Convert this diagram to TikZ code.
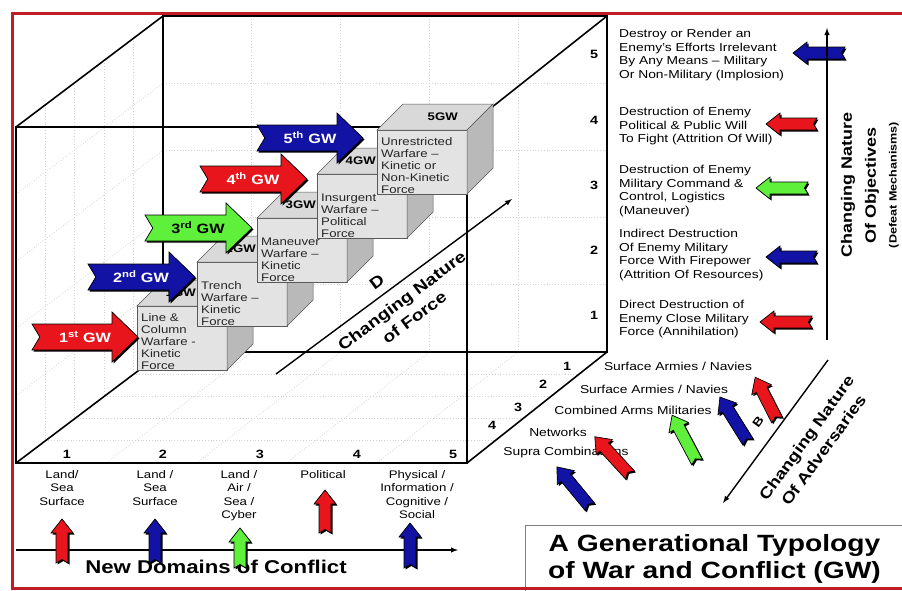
\documentclass[tikz,border=0pt]{standalone}
\usepackage{fontspec}
\setmainfont{Liberation Sans}[FakeStretch=1.2]

\definecolor{gwred}{RGB}{232,22,28}
\definecolor{gwblue}{RGB}{18,18,165}
\definecolor{gwgreen}{RGB}{95,240,60}
\definecolor{framered}{RGB}{192,28,40}

\tikzset{
  cubeline/.style={line width=1.6pt},
  gridline/.style={gray!35, dotted, line width=0.8pt},
  axisline/.style={line width=1.4pt, ->, >=latex},
  boxface/.style={draw=gray!70!black, fill=gray!22, line width=0.5pt, minimum width=90pt, minimum height=64pt, inner sep=0pt, outer sep=0pt, anchor=north west},
  boxtop/.style={draw=gray!70!black, fill=gray!30, line width=0.5pt},
  boxside/.style={draw=gray!70!black, fill=gray!55, line width=0.5pt},
  boxtext/.style={anchor=south west, align=left, inner sep=0pt, text=black!85, font=\fontsize{11}{12}\selectfont},
  boxlabel/.style={anchor=east, inner sep=0pt, font=\bfseries\fontsize{11}{12}\selectfont},
  gwtext/.style={text=white, font=\bfseries\fontsize{13.5}{16}\selectfont},
  num/.style={font=\bfseries\fontsize{12}{14}\selectfont},
  smalltext/.style={align=center, inner sep=0pt, font=\fontsize{11}{13.5}\selectfont},
  objtext/.style={anchor=north west, align=left, inner sep=0pt, font=\fontsize{11.5}{13.5}\selectfont},
  axislabel/.style={align=center, font=\bfseries\fontsize{16}{21}\selectfont},
}

% tail point, angle, length, body half width, head half width, head length, colour
\newcommand{\fatarrow}[7]{%
  \begin{scope}[shift={(#1)}]
    \begin{scope}[shift={(1.5,1.5)},rotate=#2]
      \fill[black] (0,-#4) -- (#3-#6,-#4) -- (#3-#6,-#5) -- (#3,0) -- (#3-#6,#5) -- (#3-#6,#4) -- (0,#4) -- (0.6*#4,0) -- cycle;
    \end{scope}
    \begin{scope}[rotate=#2]
      \filldraw[fill=#7, draw=black, line width=0.7pt] (0,-#4) -- (#3-#6,-#4) -- (#3-#6,-#5) -- (#3,0) -- (#3-#6,#5) -- (#3-#6,#4) -- (0,#4) -- (0.6*#4,0) -- cycle;
    \end{scope}
  \end{scope}}

\begin{document}
\begin{tikzpicture}[x=1pt,y=-1pt]
\useasboundingbox (0,0) rectangle (902,590);
\fill[white] (0,0) rectangle (902,590);

% dotted grid inside the cube
\foreach \k in {1,2,3,4} {
  \draw[gridline] ({163+88.8*\k},16) -- ({163+88.8*\k},352);
  \draw[gridline] (163,{16+67.2*\k}) -- (607,{16+67.2*\k});
  \draw[gridline] ({16+90.2*\k},463) -- ({163+88.8*\k},352);
  \draw[gridline] ({16+29.4*\k},{463-22.2*\k}) -- ({467+28*\k},{463-22.2*\k});
  \draw[gridline] ({16+29.4*\k},{127-22.2*\k}) -- ({16+29.4*\k},{463-22.2*\k});
  \draw[gridline] (16,{127+67.2*\k}) -- (163,{16+67.2*\k});
}

% cube
\draw[cubeline] (16,127) rectangle (467,463);
\draw[cubeline] (163,16) rectangle (607,352);
\draw[cubeline] (16,127) -- (163,16);
\draw[cubeline] (467,127) -- (607,16);
\draw[cubeline] (467,463) -- (607,352);
\draw[cubeline] (16,463) -- (163,352);

% scale numbers
\node[num] (dom1num) at (67,454) {1};
\node[num] (dom2num) at (163,454) {2};
\node[num] (dom3num) at (260,454) {3};
\node[num] (dom4num) at (357,454) {4};
\node[num] (dom5num) at (453,454) {5};

\node[num] (obj5num) at (594,54) {5};
\node[num] (obj4num) at (594,120) {4};
\node[num] (obj3num) at (594,185) {3};
\node[num] (obj2num) at (594,250) {2};
\node[num] (obj1num) at (594,315) {1};

\node[num] (adv1num) at (567,366) {1};
\node[num] (adv2num) at (543,384) {2};
\node[num] (adv3num) at (518,407) {3};
\node[num] (adv4num) at (492,425) {4};

% changing nature of force
\coordinate (forceS) at (276,374);
\coordinate (forceE) at (512,199);
\draw[axisline] (forceS) -- (forceE);
\node[axislabel, rotate=36.6] (forceD) at (377,282) {D};
\node[axislabel, rotate=36.6] (forcelab) at (408,309) {Changing Nature\\of Force};

% stair boxes
\node[boxface] (box1) at (137,306) {};
\filldraw[boxtop] (box1.north west) -- ++(26,-26) -- ++(90,0) -- (box1.north east) -- cycle;
\filldraw[boxside] (box1.north east) -- ++(26,-26) -- ++(0,64) -- (box1.south east) -- cycle;
\node[boxtext] (box1txt) at ([shift={(4,0)}]box1.south west) {Line \&\\Column\\Warfare -\\Kinetic\\Force};
\node[boxlabel] (box1lab) at ([shift={(59,-13)}]box1.north west) {1GW};

\node[boxface] (box2) at (197,262) {};
\filldraw[boxtop] (box2.north west) -- ++(26,-26) -- ++(90,0) -- (box2.north east) -- cycle;
\filldraw[boxside] (box2.north east) -- ++(26,-26) -- ++(0,64) -- (box2.south east) -- cycle;
\node[boxtext] (box2txt) at ([shift={(4,0)}]box2.south west) {Trench\\Warfare --\\Kinetic\\Force};
\node[boxlabel] (box2lab) at ([shift={(59,-13)}]box2.north west) {2GW};

\node[boxface] (box3) at (257,218) {};
\filldraw[boxtop] (box3.north west) -- ++(26,-26) -- ++(90,0) -- (box3.north east) -- cycle;
\filldraw[boxside] (box3.north east) -- ++(26,-26) -- ++(0,64) -- (box3.south east) -- cycle;
\node[boxtext] (box3txt) at ([shift={(4,0)}]box3.south west) {Maneuver\\Warfare --\\Kinetic\\Force};
\node[boxlabel] (box3lab) at ([shift={(59,-13)}]box3.north west) {3GW};

\node[boxface] (box4) at (317,174) {};
\filldraw[boxtop] (box4.north west) -- ++(26,-26) -- ++(90,0) -- (box4.north east) -- cycle;
\filldraw[boxside] (box4.north east) -- ++(26,-26) -- ++(0,64) -- (box4.south east) -- cycle;
\node[boxtext] (box4txt) at ([shift={(4,0)}]box4.south west) {Insurgent\\Warfare --\\Political\\Force};
\node[boxlabel] (box4lab) at ([shift={(59,-13)}]box4.north west) {4GW};

\node[boxface] (box5) at (377,130) {};
\filldraw[boxtop] (box5.north west) -- ++(26,-26) -- ++(90,0) -- (box5.north east) -- cycle;
\filldraw[boxside] (box5.north east) -- ++(26,-26) -- ++(0,64) -- (box5.south east) -- cycle;
\node[boxtext] (box5txt) at ([shift={(4,0)}]box5.south west) {Unrestricted\\Warfare --\\Kinetic or\\Non-Kinetic\\Force};
\node[boxlabel] (box5lab) at ([shift={(81,-13)}]box5.north west) {5GW};

% generation arrows
\fatarrow{32,337}{0}{106}{13}{25}{26}{gwred}
\node[gwtext] (gw1) at (85,337) {1\textsuperscript{st} GW};
\fatarrow{88,277}{0}{107}{13}{25}{26}{gwblue}
\node[gwtext] (gw2) at (141,277) {2\textsuperscript{nd} GW};
\fatarrow{145,228}{0}{107}{13}{25}{26}{gwgreen}
\node[gwtext, text=black] (gw3) at (198,228) {3\textsuperscript{rd} GW};
\fatarrow{200,179}{0}{107}{13}{25}{26}{gwred}
\node[gwtext] (gw4) at (253,179) {4\textsuperscript{th} GW};
\fatarrow{257,138}{0}{106}{13}{25}{26}{gwblue}
\node[gwtext] (gw5) at (310,138) {5\textsuperscript{th} GW};

% objectives
\node[objtext] (obj5) at (619,29) {Destroy or Render an\\Enemy's Efforts Irrelevant\\By Any Means -- Military\\Or Non-Military (Implosion)};
\node[objtext] (obj4) at (619,107) {Destruction of Enemy\\Political \& Public Will\\To Fight (Attrition Of Will)};
\node[objtext] (obj3) at (619,165) {Destruction of Enemy\\Military Command \&\\Control, Logistics\\(Maneuver)};
\node[objtext] (obj2) at (619,229) {Indirect Destruction\\Of Enemy Military\\Force With Firepower\\(Attrition Of Resources)};
\node[objtext] (obj1) at (619,300) {Direct Destruction of\\Enemy Close Military\\Force (Annihilation)};

\fatarrow{845,53}{180}{52}{6}{11}{14}{gwblue}
\fatarrow{817,124}{180}{51}{6}{11}{14}{gwred}
\fatarrow{808,188}{180}{52}{6}{11}{14}{gwgreen}
\fatarrow{817,257}{180}{51}{6}{11}{14}{gwblue}
\fatarrow{812,322}{180}{52}{6}{11}{14}{gwred}

\coordinate (objS) at (827,340);
\coordinate (objE) at (827,28);
\draw[axisline] (objS) -- (objE);
\node[axislabel, rotate=90, font=\bfseries\fontsize{15}{24}\selectfont] (objlab) at (860,185) {Changing Nature\\Of Objectives};
\node[rotate=90, font=\bfseries\fontsize{10.5}{11}\selectfont] (objsub) at (894,185) {(Defeat Mechanisms)};

% adversaries
\node[smalltext, font=\fontsize{11.5}{13.5}\selectfont] (adv1) at (678,366) {Surface Armies / Navies};
\node[smalltext, font=\fontsize{11.5}{13.5}\selectfont] (adv2) at (654,389) {Surface Armies / Navies};
\node[smalltext, font=\fontsize{11.5}{13.5}\selectfont] (adv3) at (633,410) {Combined Arms Militaries};
\node[smalltext, font=\fontsize{11.5}{13.5}\selectfont] (adv4) at (558,432) {Networks};
\node[smalltext, font=\fontsize{11.5}{13.5}\selectfont] (adv5) at (566,453) {Supra Combinations};

\fatarrow{590,507}{129.5}{52}{6}{11}{14}{gwblue}
\fatarrow{630,475}{132.6}{52}{6}{11}{14}{gwred}
\fatarrow{697,462}{118}{53}{6}{11}{14}{gwgreen}
\fatarrow{748,442}{122}{53}{6}{11}{14}{gwblue}
\fatarrow{777,420}{117}{48}{6}{11}{14}{gwred}

\coordinate (advS) at (828,360);
\coordinate (advE) at (723,503);
\draw[axisline] (advS) -- (advE);
\node[axislabel, rotate=54, font=\bfseries\fontsize{12}{14}\selectfont] (advB) at (758,422) {B};
\node[axislabel, rotate=54, font=\bfseries\fontsize{15.5}{21}\selectfont] (advlab) at (815,444) {Changing Nature\\Of Adversaries};

% domains
\node[smalltext, anchor=north] (dom1) at (62,470) {Land/\\Sea\\Surface};
\node[smalltext, anchor=north] (dom2) at (155,470) {Land /\\Sea\\Surface};
\node[smalltext, anchor=north] (dom3) at (239,470) {Land /\\Air /\\Sea /\\Cyber};
\node[smalltext, anchor=north] (dom4) at (323,470) {Political};
\node[smalltext, anchor=north] (dom5) at (417,470) {Physical /\\Information /\\Cognitive /\\Social};

\coordinate (domS) at (16,550);
\coordinate (domE) at (458,550);
\draw[axisline] (domS) -- (domE);
\node[font=\bfseries\fontsize{18.5}{20}\selectfont] (domlab) at (216,567) {New Domains of Conflict};

\fatarrow{62,563}{90}{44}{6}{11}{14}{gwred}
\fatarrow{155,563}{90}{44}{6}{11}{14}{gwblue}
\fatarrow{240,568}{90}{40}{6}{11}{14}{gwgreen}
\fatarrow{325,533}{90}{43}{6}{11}{14}{gwred}
\fatarrow{410,568}{90}{45}{6}{11}{14}{gwblue}

% title
\node[draw=gray, line width=1pt, minimum width=378pt, minimum height=66pt, anchor=north west, align=center,
      font=\bfseries\fontsize{23.5}{27}\selectfont] (title) at (525,525) {A Generational Typology\\of War and Conflict (GW)};

% frame
\draw[framered, line width=3pt] (910,13) -- (12,13) -- (12,588) -- (910,588);
\end{tikzpicture}
\end{document}
